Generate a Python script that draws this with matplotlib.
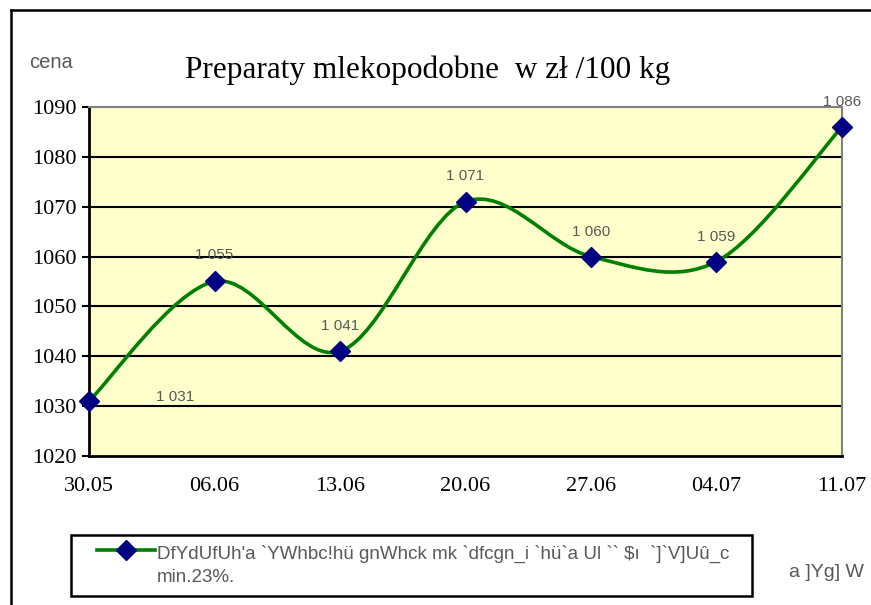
import matplotlib
matplotlib.use("Agg")
import matplotlib.pyplot as plt
from matplotlib.path import Path
from matplotlib.patches import PathPatch, Rectangle
from matplotlib.lines import Line2D
import numpy as np

dates = ["30.05", "06.06", "13.06", "20.06", "27.06", "04.07", "11.07"]
prices = [1031, 1055, 1041, 1071, 1060, 1059, 1086]
labels = ["1 031", "1 055", "1 041", "1 071", "1 060", "1 059", "1 086"]
yticks = [1020, 1030, 1040, 1050, 1060, 1070, 1080, 1090]

legend_text = ("DfYdUfUh'a `YWhbc!hü gnWhck mk `dfcgn_i `hü`a Ul `` $ı  `]`V]Uû_c\n"
               "min.23%.")

narrow = ["Liberation Sans Narrow", "Liberation Sans", "DejaVu Sans"]
serif = ["Liberation Serif", "DejaVu Serif"]
label_col = "#595959"

fig = plt.figure(figsize=(8.71, 6.05), dpi=100)
ax = fig.add_axes([0.1022, 0.2463, 0.8645, 0.5769])
ax.set_facecolor("#FFFFCC")

x = np.arange(len(prices))
y = np.array(prices, dtype=float)

# smoothed line like Excel (cubic bezier through points)
verts = [(x[0], y[0])]
codes = [Path.MOVETO]
n = len(x)
for i in range(n - 1):
    p0 = np.array([x[max(i - 1, 0)], y[max(i - 1, 0)]])
    p1 = np.array([x[i], y[i]])
    p2 = np.array([x[i + 1], y[i + 1]])
    p3 = np.array([x[min(i + 2, n - 1)], y[min(i + 2, n - 1)]])
    c1 = p1 + (p2 - p0) / 6
    c2 = p2 - (p3 - p1) / 6
    verts += [tuple(c1), tuple(c2), tuple(p2)]
    codes += [Path.CURVE4] * 3
ax.add_patch(PathPatch(Path(verts, codes), fill=False, edgecolor="#008000",
                       lw=2.6, zorder=3, clip_on=False))
ax.plot(x, y, ls="none", marker="D", ms=10, color="#000080", zorder=4, clip_on=False)

offsets = [(86, 4), (0, 26), (0, 25), (0, 26), (0, 25), (0, 25), (0, 25)]
for xi, yi, lab, off in zip(x, y, labels, offsets):
    ax.annotate(lab, (xi, yi), xytext=off, textcoords="offset pixels",
                ha="center", va="center", fontsize=11, family=narrow,
                color=label_col)

ax.set_xlim(0, len(prices) - 1)
ax.set_ylim(1020, 1090)
ax.set_yticks(yticks)
ax.set_xticks(x)
ax.set_xticklabels(dates)
for yt in yticks[1:-1]:
    ax.axhline(yt, color="black", lw=1.5, zorder=1)
for lab in ax.get_xticklabels() + ax.get_yticklabels():
    lab.set_family(serif)
    lab.set_fontsize(16)
ax.tick_params(axis="y", length=5, width=1.5, pad=4)
ax.tick_params(axis="x", length=0, pad=15)
ax.spines["left"].set_linewidth(2)
ax.spines["bottom"].set_linewidth(2)
ax.spines["top"].set_color("#808080")
ax.spines["right"].set_color("#808080")
ax.spines["top"].set_linewidth(1.5)
ax.spines["right"].set_linewidth(1.5)

fig.text(0.4914, 0.884, "Preparaty mlekopodobne  w zł /100 kg", ha="center",
         va="center", fontsize=22.5, family=serif)
fig.text(0.0586, 0.897, "cena", ha="center", va="center", fontsize=14.5,
         family=narrow, color=label_col)
fig.text(0.906, 0.054, "a ]Yg] W", ha="left", va="center", fontsize=14,
         family=narrow, color=label_col)

# outer chart border
fig.add_artist(Line2D([0.0126, 0.0126], [0, 0.9835], color="black", lw=1.8))
fig.add_artist(Line2D([0.0126, 1], [0.9835, 0.9835], color="black", lw=1.8))

# legend box
fig.add_artist(Rectangle((0.0815, 0.0149), 0.7819, 0.1008, fill=False,
                         edgecolor="black", lw=1.8))
fig.add_artist(Line2D([0.1114, 0.178], [0.091, 0.091], color="#008000", lw=2.6))
fig.add_artist(Line2D([0.1447], [0.091], marker="D", ms=10, color="#000080"))
fig.text(0.180, 0.065, legend_text, ha="left", va="center", fontsize=13.5,
         family=narrow, color=label_col, linespacing=1.45)

fig.savefig("out.png", dpi=100)
